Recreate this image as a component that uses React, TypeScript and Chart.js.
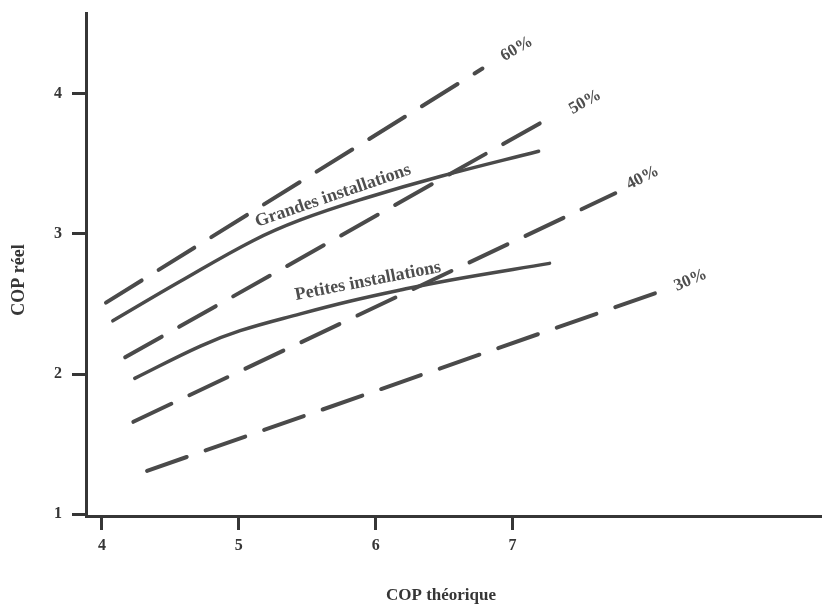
import React, { useEffect, useRef } from 'react';
import { Chart, registerables } from 'chart.js';

Chart.register(...registerables);

// Axis ticks
const xTickValues = [4, 5, 6, 7];
const yTickValues = [1, 2, 3, 4];
const xTitle = 'COP théorique';
const yTitle = 'COP réel';

// Solid curves (measured installations)
const grandesX = [4.08, 4.57, 5.1, 5.45, 5.94, 6.47, 7.19];
const grandesY = [2.38, 2.66, 2.95, 3.1, 3.26, 3.41, 3.59];
const petitesX = [4.24, 4.72, 5.01, 5.45, 5.81, 6.18, 6.54, 7.27];
const petitesY = [1.97, 2.2, 2.31, 2.43, 2.52, 2.6, 2.67, 2.79];

// Dashed efficiency lines
const eff60X = [4.03, 6.78];
const eff60Y = [2.51, 4.18];
const eff50X = [4.17, 7.31];
const eff50Y = [2.12, 3.85];
const eff40X = [4.23, 7.75];
const eff40Y = [1.66, 3.29];
const eff30X = [4.33, 8.08];
const eff30Y = [1.31, 2.59];

// Labels
const pctLabels = ['60%', '50%', '40%', '30%'];
const pctX = [7.03, 7.53, 7.95, 8.3];
const pctY = [4.32, 3.94, 3.4, 2.67];
const pctAngle = [-30, -29, -27, -23];

const curveLabels = ['Grandes installations', 'Petites installations'];
const curveLabelX = [5.7, 5.95];
const curveLabelY = [3.24, 2.63];
const curveLabelAngle = [-19, -11];

const LINE = '#4a4a4a';
const AXIS = '#363636';
const TEXT = '#4e4e4e';
const FONT = '"Liberation Serif", "Times New Roman", serif';

const pts = (xs: number[], ys: number[]) => xs.map((x, i) => ({ x, y: ys[i] }));

const annotations = {
  id: 'annotations',
  afterDatasetsDraw(chart: any) {
    const { ctx, chartArea } = chart;
    const xs = chart.scales.x;
    const ys = chart.scales.y;
    ctx.save();
    ctx.fillStyle = TEXT;
    ctx.textAlign = 'center';

    ctx.textBaseline = 'middle';
    ctx.font = `bold 17px ${FONT}`;
    pctLabels.forEach((t, i) => {
      ctx.save();
      ctx.translate(xs.getPixelForValue(pctX[i]), ys.getPixelForValue(pctY[i]));
      ctx.rotate((pctAngle[i] * Math.PI) / 180);
      ctx.fillText(t, 0, 0);
      ctx.restore();
    });

    ctx.textBaseline = 'alphabetic';
    ctx.font = `bold 18px ${FONT}`;
    curveLabels.forEach((t, i) => {
      ctx.save();
      ctx.translate(xs.getPixelForValue(curveLabelX[i]), ys.getPixelForValue(curveLabelY[i]));
      ctx.rotate((curveLabelAngle[i] * Math.PI) / 180);
      ctx.fillText(t, 0, 0);
      ctx.restore();
    });

    // axis titles
    ctx.fillStyle = AXIS;
    ctx.textBaseline = 'middle';
    ctx.font = `bold 17px ${FONT}`;
    ctx.fillText(xTitle, chartArea.left + 355, chart.height - 11);

    ctx.font = `bold 18px ${FONT}`;
    ctx.save();
    ctx.translate(19, chartArea.top + 267);
    ctx.rotate(-Math.PI / 2);
    ctx.fillText(yTitle, 0, 0);
    ctx.restore();

    ctx.restore();
  },
};

export default function App() {
  const ref = useRef<HTMLCanvasElement>(null);

  useEffect(() => {
    const solid = (data: any) => ({
      data,
      borderColor: LINE,
      borderWidth: 3.5,
      pointRadius: 0,
      fill: false,
      tension: 0.4,
      borderCapStyle: 'round' as const,
    });
    const dashed = (data: any) => ({
      data,
      borderColor: LINE,
      borderWidth: 4,
      pointRadius: 0,
      fill: false,
      tension: 0,
      borderDash: [42, 20],
      borderCapStyle: 'round' as const,
    });

    const tickFont = { family: FONT, weight: 'bold' as const, size: 16 };

    const chart = new Chart(ref.current!, {
      type: 'line',
      data: {
        datasets: [
          dashed(pts(eff60X, eff60Y)),
          dashed(pts(eff50X, eff50Y)),
          dashed(pts(eff40X, eff40Y)),
          dashed(pts(eff30X, eff30Y)),
          solid(pts(grandesX, grandesY)),
          solid(pts(petitesX, petitesY)),
        ],
      },
      options: {
        animation: false,
        responsive: false,
        layout: { padding: { top: 13, left: 0, right: 0, bottom: 0 } },
        plugins: { legend: { display: false }, tooltip: { enabled: false } },
        scales: {
          x: {
            type: 'linear',
            min: 3.884,
            max: 9.26,
            afterBuildTicks: (s: any) => {
              s.ticks = xTickValues.map((v) => ({ value: v }));
            },
            afterFit: (s: any) => {
              s.height = 91;
              s.paddingLeft = 0;
              s.paddingRight = 0;
            },
            border: { display: true, color: AXIS, width: 3 },
            grid: {
              display: true,
              drawOnChartArea: false,
              drawTicks: true,
              tickLength: 14,
              color: AXIS,
              lineWidth: 3,
            },
            ticks: { color: AXIS, font: tickFont, padding: 6, maxRotation: 0 },
          },
          y: {
            type: 'linear',
            min: 0.988,
            max: 4.576,
            afterBuildTicks: (s: any) => {
              s.ticks = yTickValues.map((v) => ({ value: v }));
            },
            afterFit: (s: any) => {
              s.width = 86;
              s.paddingTop = 0;
              s.paddingBottom = 0;
            },
            border: { display: true, color: AXIS, width: 3 },
            grid: {
              display: true,
              drawOnChartArea: false,
              drawTicks: true,
              tickLength: 14,
              color: AXIS,
              lineWidth: 3,
            },
            ticks: { color: AXIS, font: tickFont, padding: 10 },
          },
        },
      },
      plugins: [annotations],
    });
    return () => chart.destroy();
  }, []);

  return (
    <div style={{ position: 'absolute', left: 0, top: 0, width: 822, height: 607, background: '#fff' }}>
      <canvas ref={ref} width={822} height={607} style={{ display: 'block' }} />
    </div>
  );
}
